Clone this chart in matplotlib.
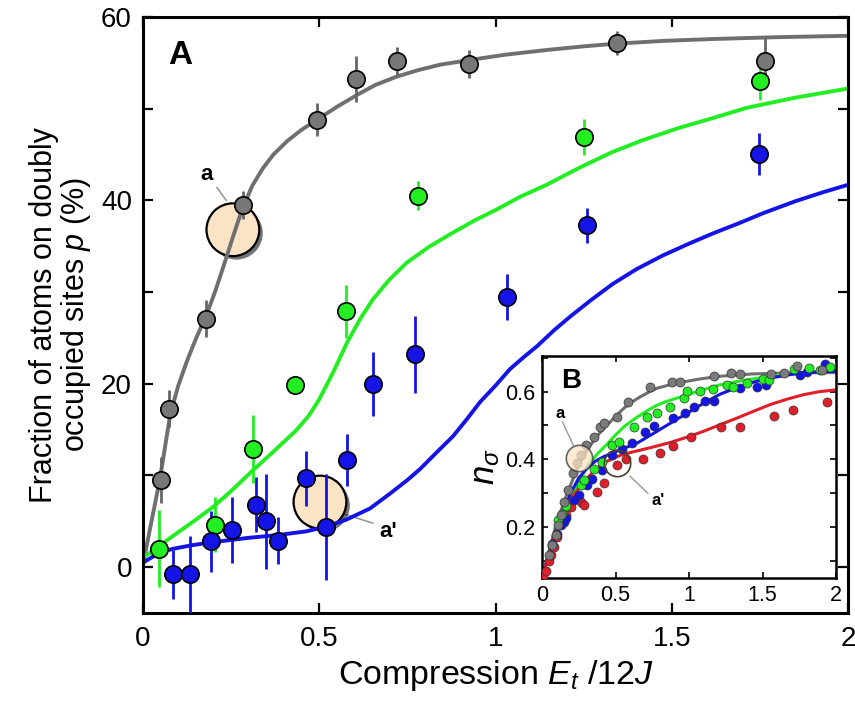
import numpy as np
import matplotlib
matplotlib.use("Agg")
from matplotlib import pyplot as plt
from matplotlib.ticker import MultipleLocator
import matplotlib.patheffects as pe

plt.rcParams['font.family'] = ['Liberation Sans', 'DejaVu Sans']
plt.rcParams['mathtext.fontset'] = 'custom'
plt.rcParams['mathtext.rm'] = 'Liberation Sans'
plt.rcParams['mathtext.it'] = 'Liberation Sans:italic'
plt.rcParams['mathtext.bf'] = 'Liberation Sans:bold'

# ---- panel A data ----
gray_x = [0.05, 0.075, 0.18, 0.285, 0.495, 0.605, 0.72, 0.925, 1.345, 1.765]
gray_y = [9.5, 17.3, 27.1, 39.5, 48.8, 53.2, 55.2, 54.9, 57.2, 55.2]
gray_err = [2.5, 2.0, 2.0, 1.5, 1.8, 2.5, 1.5, 1.5, 1.3, 2.5]

green_x = [0.045, 0.204, 0.312, 0.43, 0.576, 0.78, 1.251, 1.75]
green_y = [2.0, 4.6, 12.9, 19.9, 27.9, 40.5, 46.9, 53.0]
green_err = [4.2, 3.0, 3.7, 1.0, 2.9, 1.6, 2.0, 2.0]

blue_x = [0.085, 0.133, 0.193, 0.252, 0.32, 0.349, 0.383, 0.462, 0.519,
          0.578, 0.652, 0.772, 1.033, 1.26, 1.748]
blue_y = [-0.8, -0.8, 2.8, 4.1, 6.8, 5.0, 2.9, 9.7, 4.4,
          11.7, 20.0, 23.2, 29.5, 37.3, 45.1]
blue_err = [2.7, 4.2, 3.3, 3.6, 3.0, 5.2, 2.6, 3.0, 5.8,
            2.8, 3.5, 4.2, 2.5, 1.9, 2.3]

gray_fit_x = [0.0, 0.02, 0.048, 0.077, 0.1, 0.125, 0.15, 0.18, 0.205, 0.23, 0.255,
              0.281, 0.31, 0.34, 0.37, 0.41, 0.45, 0.494, 0.55, 0.607, 0.66, 0.72,
              0.78, 0.843, 0.925, 1.03, 1.145, 1.25, 1.345, 1.48, 1.617, 1.8, 2.0]
gray_fit_y = [0.3, 4.2, 9.6, 16.6, 19.8, 22.5, 24.9, 27.5, 30.1, 33.0, 36.0,
              39.0, 41.6, 43.5, 45.0, 46.5, 47.7, 48.8, 50.2, 51.5, 52.6, 53.5,
              54.2, 54.8, 55.3, 55.9, 56.4, 56.8, 57.1, 57.4, 57.6, 57.8, 57.95]

green_fit_x = [0.0, 0.045, 0.085, 0.14, 0.2, 0.25, 0.31, 0.37, 0.434, 0.47, 0.5,
               0.54, 0.579, 0.615, 0.652, 0.7, 0.748, 0.81, 0.871, 0.94, 1.003,
               1.07, 1.145, 1.24, 1.333, 1.42, 1.52, 1.61, 1.713, 1.85, 2.0]
green_fit_y = [1.0, 2.3, 3.4, 4.9, 6.6, 8.3, 10.5, 12.6, 14.9, 16.5, 18.3,
               21.3, 24.5, 27.0, 29.2, 31.4, 33.2, 34.9, 36.3, 37.8, 39.0,
               40.4, 41.7, 43.6, 45.3, 46.6, 47.9, 48.9, 50.1, 51.2, 52.2]

blue_fit_x = [0.0, 0.048, 0.085, 0.14, 0.193, 0.3, 0.383, 0.462, 0.519, 0.578,
              0.644, 0.7, 0.75, 0.786, 0.83, 0.88, 0.92, 0.956, 1.0, 1.041, 1.08,
              1.118, 1.165, 1.211, 1.27, 1.333, 1.4, 1.475, 1.55, 1.617, 1.69,
              1.759, 1.85, 1.93, 2.0]
blue_fit_y = [0.5, 1.6, 2.0, 2.4, 2.7, 3.2, 3.5, 3.9, 4.4, 5.2,
              6.4, 8.0, 9.5, 10.7, 12.4, 14.3, 16.2, 18.0, 19.8, 21.6, 22.9,
              24.1, 25.8, 27.3, 29.1, 30.9, 32.5, 34.0, 35.3, 36.4, 37.5,
              38.6, 39.9, 40.9, 41.7]

# highlighted points in panel A
circ_a = (0.255, 36.8)
circ_ap = (0.502, 7.1)

# ---- panel B data ----
b_gray_x = [0.047, 0.069, 0.092, 0.108, 0.13, 0.153, 0.176, 0.21, 0.239, 0.262,
            0.296, 0.353, 0.393, 0.425, 0.507, 0.584, 0.738, 0.885, 0.938,
            1.169, 1.289, 1.346, 1.555, 1.646, 1.736, 1.906]
b_gray_y = [0.117, 0.147, 0.176, 0.206, 0.235, 0.275, 0.309, 0.359, 0.388, 0.412,
            0.442, 0.467, 0.496, 0.506, 0.526, 0.569, 0.613, 0.628, 0.628,
            0.645, 0.655, 0.652, 0.653, 0.655, 0.675, 0.663]

b_green_x = [0.108, 0.137, 0.16, 0.262, 0.285, 0.353, 0.409, 0.477, 0.523, 0.625,
             0.716, 0.784, 0.874, 0.969, 0.983, 1.078, 1.162, 1.259, 1.3, 1.395,
             1.5, 1.541, 1.717, 1.819, 1.894, 1.96]
b_green_y = [0.222, 0.239, 0.262, 0.324, 0.339, 0.373, 0.393, 0.442, 0.45, 0.496,
             0.526, 0.536, 0.556, 0.58, 0.602, 0.601, 0.609, 0.619, 0.614, 0.625,
             0.638, 0.635, 0.668, 0.67, 0.665, 0.672]

b_blue_x = [0.07, 0.1, 0.126, 0.149, 0.16, 0.217, 0.251, 0.307, 0.341, 0.409,
            0.477, 0.545, 0.613, 0.704, 0.76, 0.892, 0.976, 1.033, 1.108, 1.173,
            1.35, 1.463, 1.525, 1.758, 1.804, 1.924]
b_blue_y = [0.15, 0.18, 0.207, 0.216, 0.227, 0.279, 0.294, 0.323, 0.343, 0.368,
            0.412, 0.432, 0.447, 0.482, 0.497, 0.521, 0.536, 0.556, 0.573, 0.573,
            0.61, 0.615, 0.618, 0.648, 0.658, 0.68]

b_red_x = [0.01, 0.025, 0.047, 0.058, 0.069, 0.08, 0.1, 0.16, 0.194, 0.262,
           0.285, 0.371, 0.42, 0.511, 0.574, 0.688, 0.802, 0.893, 1.011,
           1.215, 1.35, 1.576, 1.708, 1.94]
b_red_y = [0.055, 0.07, 0.1, 0.117, 0.143, 0.142, 0.171, 0.236, 0.26, 0.275,
           0.265, 0.305, 0.329, 0.384, 0.4, 0.4, 0.42, 0.438, 0.466,
           0.495, 0.495, 0.529, 0.546, 0.57]

b_gray_fit_x = [0.0, 0.012, 0.03, 0.058, 0.09, 0.126, 0.16, 0.194, 0.228, 0.262,
                0.3, 0.33, 0.385, 0.443, 0.5, 0.557, 0.615, 0.67, 0.725, 0.783,
                0.86, 0.942, 1.07, 1.203, 1.43, 1.656, 2.0]
b_gray_fit_y = [0.05, 0.068, 0.1, 0.147, 0.198, 0.245, 0.287, 0.324, 0.36, 0.393,
                0.423, 0.442, 0.474, 0.501, 0.527, 0.551, 0.57, 0.585, 0.598, 0.61,
                0.619, 0.627, 0.637, 0.645, 0.652, 0.655, 0.656]

b_green_fit_x = [0.0, 0.058, 0.126, 0.17, 0.217, 0.27, 0.33, 0.385, 0.443, 0.5,
                 0.557, 0.615, 0.67, 0.725, 0.783, 0.84, 0.897, 0.987, 1.1, 1.203,
                 1.32, 1.43, 1.54, 1.656, 1.8, 2.0]
b_green_fit_y = [0.05, 0.137, 0.221, 0.26, 0.3, 0.35, 0.393, 0.42, 0.445, 0.472,
                 0.496, 0.515, 0.531, 0.546, 0.56, 0.57, 0.578, 0.59, 0.606, 0.619,
                 0.629, 0.637, 0.644, 0.651, 0.657, 0.663]

b_blue_fit_x = [0.0, 0.058, 0.126, 0.194, 0.25, 0.307, 0.36, 0.42, 0.53, 0.647,
                0.76, 0.874, 0.99, 1.1, 1.21, 1.327, 1.44, 1.554, 1.67, 1.78,
                1.89, 2.0]
b_blue_fit_y = [0.05, 0.137, 0.225, 0.3, 0.345, 0.374, 0.394, 0.408, 0.428, 0.448,
                0.477, 0.507, 0.537, 0.566, 0.592, 0.612, 0.628, 0.64, 0.649, 0.655,
                0.658, 0.66]

b_red_fit_x = [0.0, 0.04, 0.08, 0.135, 0.194, 0.25, 0.307, 0.36, 0.42, 0.48,
               0.533, 0.59, 0.647, 0.76, 0.874, 0.99, 1.1, 1.21, 1.327, 1.44,
               1.554, 1.67, 1.78, 1.89, 2.0]
b_red_fit_y = [0.05, 0.11, 0.171, 0.23, 0.28, 0.315, 0.344, 0.368, 0.389, 0.402,
               0.412, 0.419, 0.425, 0.437, 0.45, 0.466, 0.483, 0.502, 0.522, 0.542,
               0.562, 0.578, 0.591, 0.6, 0.605]

b_circ_a = (0.255, 0.404)
b_circ_ap = (0.513, 0.39)

GRAY = '#6f6f6f'
GREEN = '#22ee22'
BLUE = '#1414e6'
RED = '#e01e2a'
PEACH = '#fbe3c5'

fig = plt.figure(figsize=(8.55, 7.09), dpi=100)
W, H = 855, 709
ax = fig.add_axes([143 / W, 1 - 613 / H, (848 - 143) / W, (613 - 17) / H])

shadow = [pe.withSimplePatchShadow(offset=(2.5, -2.5), shadow_rgbFace='k', alpha=0.55)]

# highlight circles (behind curves)
for c in (circ_a, circ_ap):
    ax.plot([c[0]], [c[1]], 'o', ms=38, mfc=PEACH, mec='k', mew=1.6,
            zorder=1, path_effects=shadow)

ax.plot(gray_fit_x, gray_fit_y, color=GRAY, lw=2.8, zorder=2)
ax.plot(green_fit_x, green_fit_y, color=GREEN, lw=2.8, zorder=2)
ax.plot(blue_fit_x, blue_fit_y, color=BLUE, lw=2.8, zorder=2)

for xs, ys, es, col, ecol in [(gray_x, gray_y, gray_err, '#777777', '#666666'),
                              (green_x, green_y, green_err, GREEN, GREEN),
                              (blue_x, blue_y, blue_err, BLUE, BLUE)]:
    ax.errorbar(xs, ys, yerr=es, fmt='none', ecolor=ecol, elinewidth=2.0,
                capsize=0, zorder=3)
    ax.plot(xs, ys, 'o', ms=12.5, mfc=col, mec='k', mew=1.2, zorder=4)

# callouts
ax.plot([0.21, 0.236], [41.4, 40.0], color='#999999', lw=1.2, zorder=0)
ax.text(0.179, 42.8, 'a', fontsize=16, fontweight='bold', ha='center', va='center')
ax.plot([0.57, 0.652], [5.8, 4.8], color='#999999', lw=1.2, zorder=0)
ax.text(0.695, 3.9, "a'", fontsize=16, fontweight='bold', ha='center', va='center')
ax.text(0.105, 55.8, 'A', fontsize=24, fontweight='bold', ha='center', va='center')

ax.set_xlim(0, 2)
ax.set_ylim(-5, 60)
ax.set_xticks([0, 0.5, 1, 1.5, 2])
ax.set_xticklabels(['0', '0.5', '1', '1.5', '2'])
ax.set_yticks([0, 20, 40, 60])
ax.yaxis.set_minor_locator(MultipleLocator(10))
ax.tick_params(which='both', direction='in', top=True, right=True,
               labelsize=20, width=1.6, length=7)
ax.tick_params(axis='x', pad=9)
ax.tick_params(axis='y', pad=8)
for s in ax.spines.values():
    s.set_linewidth(2.2)

ax.set_xlabel('Compression $E_t$ /12$J$', fontsize=24.5, labelpad=5)
ax.set_ylabel('Fraction of atoms on doubly\noccupied sites $p$ (%)', fontsize=22,
              labelpad=6, linespacing=1.0)

# ---- inset B ----
axi = fig.add_axes([542 / W, 1 - 578 / H, (836 - 542) / W, (578 - 356) / H])
axi.plot(b_gray_fit_x, b_gray_fit_y, color=GRAY, lw=2.2, zorder=2)
axi.plot(b_green_fit_x, b_green_fit_y, color=GREEN, lw=2.2, zorder=2)
axi.plot(b_blue_fit_x, b_blue_fit_y, color=BLUE, lw=2.2, zorder=2)
axi.plot(b_red_fit_x, b_red_fit_y, color=RED, lw=2.2, zorder=2)

for xs, ys, col in [(b_red_x, b_red_y, RED), (b_blue_x, b_blue_y, BLUE),
                    (b_green_x, b_green_y, GREEN), (b_gray_x, b_gray_y, '#7a7a7a')]:
    axi.plot(xs, ys, 'o', ms=6.5, mfc=col, mec='#333333', mew=0.5, zorder=3)

axi.plot([b_circ_a[0]], [b_circ_a[1]], 'o', ms=19, mfc=PEACH, mec='#333333', mew=1.2,
         alpha=0.75, zorder=4)
axi.plot([b_circ_ap[0]], [b_circ_ap[1]], 'o', ms=19, mfc='none', mec='#4a4030', mew=1.2,
         zorder=4)
axi.plot([0.14, 0.215], [0.51, 0.44], color='#999999', lw=1.0, zorder=4)
axi.text(0.12, 0.535, 'a', fontsize=12, fontweight='bold', ha='center', va='center')
axi.plot([0.6, 0.72], [0.35, 0.3], color='#999999', lw=1.0, zorder=4)
axi.text(0.79, 0.28, "a'", fontsize=12, fontweight='bold', ha='center', va='center')
axi.text(0.2, 0.63, 'B', fontsize=20, fontweight='bold', ha='center', va='center')

axi.set_xlim(0, 2)
axi.set_ylim(0.05, 0.705)
axi.set_xticks([0, 0.5, 1, 1.5, 2])
axi.set_xticklabels(['0', '0.5', '1', '1.5', '2'])
axi.set_yticks([0.2, 0.4, 0.6])
axi.yaxis.set_minor_locator(MultipleLocator(0.1))
axi.tick_params(which='both', direction='in', top=True, right=True,
                labelsize=15.5, width=1.2, length=4, pad=5)
for s in axi.spines.values():
    s.set_linewidth(1.8)
axi.set_ylabel(r'$n_\sigma$', fontsize=25, labelpad=2)

fig.savefig('out.png', dpi=100)
